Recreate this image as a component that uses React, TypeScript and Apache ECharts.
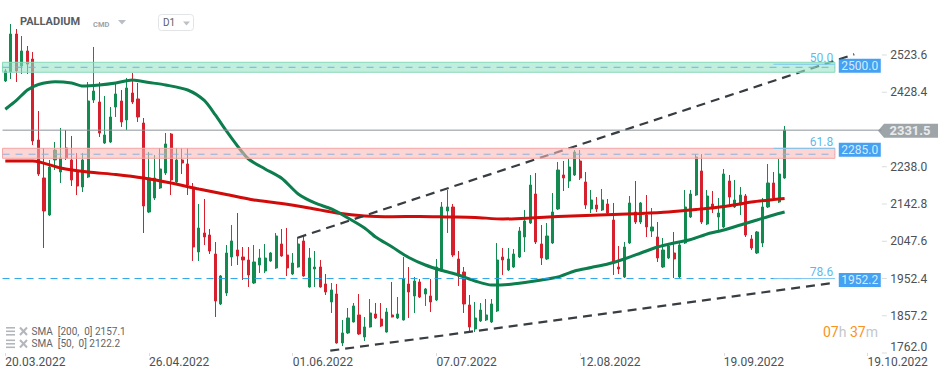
import React, { useEffect, useRef } from "react";
import * as echarts from "echarts";

const FONT = "Roboto, 'Noto Sans', sans-serif";
const GREEN = "#128a50";
const RED = "#d6202e";
const AXIS_TEXT = "#4b5157";

// ---- axes ----
const SLOT_COUNT = 159;
const slots = Array.from({ length: SLOT_COUNT }, (_, i) => String(i));
const LABEL_STEP = 26;
const dateLabels = ["20.03.2022", "26.04.2022", "01.06.2022", "07.07.2022", "12.08.2022", "19.09.2022", "19.10.2022"];
const priceTicks = [1762.0, 1857.2, 1952.4, 2047.6, 2142.8, 2238.0, 2428.4, 2523.6];
const Y_MIN = 1762.0;
const Y_MAX = 2651.4;

// ---- candles: [open, close, low, high] ----
const ohlc = [
  [2457.2, 2482.7, 2454.6, 2487.9], [2480.2, 2577.3, 2462.3, 2602.9], [2577.3, 2482.7, 2454.6, 2590.1],
  [2495.5, 2533.9, 2475.1, 2572.2], [2533.9, 2500.6, 2475.1, 2546.6], [2513.4, 2303.8, 2293.6, 2531.3],
  [2306.4, 2219.5, 2214.4, 2380.5], [2209.3, 2124.9, 2030.4, 2286.0], [2114.7, 2237.4, 2112.2, 2255.3],
  [2255.3, 2280.8, 2229.7, 2301.3], [2224.6, 2260.4, 2196.5, 2337.1], [2286.0, 2260.4, 2255.3, 2332.0],
  [2255.3, 2204.2, 2188.8, 2316.6], [2224.6, 2188.8, 2165.8, 2273.2], [2186.3, 2255.3, 2173.5, 2273.2],
  [2211.8, 2406.1, 2209.3, 2454.6], [2408.6, 2431.6, 2401.0, 2544.1], [2403.5, 2324.3, 2314.1, 2454.6],
  [2298.7, 2319.2, 2296.2, 2418.9], [2301.3, 2365.2, 2298.7, 2390.7], [2390.7, 2424.0, 2365.2, 2452.1],
  [2406.1, 2352.4, 2339.6, 2434.2], [2357.5, 2439.3, 2332.0, 2464.9], [2426.5, 2403.5, 2398.4, 2477.6],
  [2411.2, 2365.2, 2352.4, 2452.1], [2349.8, 2137.7, 2068.7, 2362.6], [2122.4, 2209.3, 2119.8, 2275.7],
  [2158.2, 2209.3, 2153.1, 2268.1], [2183.7, 2232.3, 2181.2, 2286.0], [2222.1, 2296.2, 2217.0, 2324.3],
  [2321.7, 2204.2, 2165.8, 2324.3], [2199.1, 2255.3, 2196.5, 2286.0], [2255.3, 2247.6, 2219.5, 2286.0],
  [2245.1, 2191.4, 2165.8, 2286.0], [2183.7, 2032.9, 1997.2, 2196.5], [2020.2, 2081.5, 1997.2, 2142.8],
  [2068.7, 2058.5, 2038.1, 2155.6], [2063.6, 2022.7, 2015.0, 2078.9], [2015.0, 1894.9, 1854.0, 2045.7],
  [1887.3, 1958.8, 1884.7, 1961.4], [1915.4, 2017.6, 1907.7, 2038.1], [2007.4, 2048.3, 1984.4, 2089.2],
  [2025.3, 2009.9, 1986.9, 2119.8], [2007.4, 1999.7, 1948.6, 2032.9], [1999.7, 1961.4, 1930.7, 2032.9],
  [1940.9, 1994.6, 1938.4, 2038.1], [1986.9, 2004.8, 1966.5, 2027.8], [1971.6, 2004.8, 1966.5, 2040.6],
  [1997.2, 2017.6, 1995.0, 2020.0], [1979.3, 2061.1, 1977.0, 2068.7], [2040.6, 2009.9, 2008.0, 2078.9],
  [2012.5, 1979.3, 1958.8, 2081.5], [1963.9, 1992.0, 1961.4, 2017.6], [1981.8, 2040.6, 1980.0, 2058.5],
  [2048.3, 1958.8, 1957.0, 2061.1], [1930.7, 2004.8, 1929.0, 2030.4], [1976.7, 1981.8, 1930.7, 2022.7],
  [1981.8, 1930.7, 1929.0, 1999.7], [1938.4, 1917.9, 1910.3, 1963.9], [1892.4, 1923.1, 1864.3, 1940.9],
  [1912.8, 1787.6, 1786.0, 1938.4], [1787.6, 1813.2, 1779.9, 1846.4], [1813.2, 1851.5, 1810.6, 1877.0],
  [1841.3, 1882.2, 1840.0, 1889.8], [1859.2, 1810.6, 1808.1, 1912.8], [1802.9, 1828.5, 1792.7, 1854.0],
  [1828.5, 1864.3, 1827.0, 1900.0], [1861.7, 1851.5, 1848.9, 1889.8], [1848.9, 1831.0, 1828.5, 1889.8],
  [1815.7, 1866.8, 1814.0, 1877.0], [1859.2, 1854.0, 1853.0, 1943.5], [1851.5, 1861.7, 1848.9, 1905.2],
  [1846.4, 1951.2, 1845.0, 2007.4], [1938.4, 1917.9, 1851.5, 1981.8], [1907.7, 1946.0, 1864.3, 1956.3],
  [1943.5, 1905.2, 1902.6, 1951.2], [1912.8, 1925.6, 1882.2, 1928.2], [1907.7, 1892.4, 1866.8, 1951.2],
  [1897.5, 1981.8, 1894.9, 2002.3], [1971.6, 2135.2, 1969.1, 2147.9], [2124.9, 2135.2, 2068.7, 2178.6],
  [2135.2, 2012.5, 2007.4, 2142.8], [2002.3, 1958.8, 1933.3, 2022.7], [1969.0, 1887.3, 1864.3, 1981.8],
  [1884.7, 1828.5, 1818.3, 1910.3], [1823.4, 1851.5, 1815.7, 1892.4], [1843.8, 1871.9, 1841.3, 1889.8],
  [1846.4, 1859.2, 1843.8, 1900.0], [1841.3, 1887.3, 1838.7, 1900.0], [1869.4, 1999.7, 1866.8, 2043.2],
  [2007.4, 1999.7, 1961.4, 2030.4], [1974.2, 2002.3, 1971.6, 2030.4], [1981.8, 2015.0, 1979.3, 2027.8],
  [2007.4, 2073.8, 2004.8, 2084.1], [2058.5, 2099.4, 2020.2, 2127.5], [2094.3, 2191.4, 2091.7, 2217.0],
  [2168.4, 2045.7, 2040.6, 2222.1], [2040.6, 2004.8, 1986.9, 2089.2], [2002.3, 2061.1, 1999.7, 2094.3],
  [2043.2, 2122.4, 2040.6, 2170.9], [2130.1, 2229.7, 2127.5, 2250.2], [2217.0, 2209.3, 2176.1, 2252.7],
  [2201.6, 2237.4, 2183.7, 2257.8], [2217.0, 2275.7, 2214.4, 2280.8], [2252.7, 2209.3, 2204.2, 2280.8],
  [2199.1, 2140.3, 2130.1, 2224.6], [2130.1, 2153.1, 2119.8, 2178.6], [2140.3, 2130.1, 2122.4, 2160.7],
  [2127.5, 2153.1, 2124.9, 2181.2], [2142.8, 2119.8, 2114.7, 2155.6], [2101.9, 1992.0, 1961.4, 2145.4],
  [1981.8, 1976.7, 1963.9, 2035.5], [1956.3, 2032.9, 1953.7, 2045.7], [2043.2, 2145.4, 2040.6, 2163.3],
  [2122.4, 2096.8, 2091.7, 2201.6], [2096.8, 2145.4, 2091.7, 2147.9], [2114.7, 2084.1, 2058.5, 2165.8],
  [2073.8, 2084.1, 2058.5, 2132.6], [2058.5, 2004.8, 1994.6, 2096.8], [1981.8, 2025.3, 1979.3, 2055.9],
  [2004.8, 2035.5, 2002.3, 2043.2], [2017.6, 2002.3, 1953.7, 2071.3], [1956.3, 2038.1, 1953.7, 2043.2],
  [2043.2, 2135.2, 2040.6, 2178.6], [2109.6, 2168.4, 2107.1, 2178.6], [2165.8, 2262.9, 2163.3, 2270.6],
  [2227.2, 2096.8, 2091.7, 2270.6], [2091.7, 2163.3, 2089.2, 2178.6], [2142.8, 2130.1, 2119.8, 2176.1],
  [2109.6, 2119.8, 2073.8, 2158.2], [2084.1, 2219.5, 2081.5, 2232.3], [2201.6, 2160.7, 2135.2, 2217.0],
  [2135.2, 2153.1, 2132.6, 2204.2], [2140.3, 2165.8, 2114.7, 2186.3], [2163.3, 2063.6, 2058.5, 2168.4],
  [2053.4, 2030.4, 2025.3, 2063.6], [2017.6, 2071.3, 2015.0, 2073.8], [2043.2, 2135.2, 2032.9, 2158.2],
  [2135.2, 2196.5, 2132.6, 2245.1], [2196.5, 2158.2, 2155.6, 2224.6], [2147.9, 2219.5, 2145.4, 2257.8],
  [2209.3, 2331.5, 2207.0, 2342.2],
];

// ---- moving averages: [slot, value] ----
const sma200 = [
  [0, 2252.7], [5, 2252.7], [10, 2234.8], [15, 2224.6], [20, 2218.2], [25, 2209.3], [30, 2196.5],
  [35, 2181.2], [40, 2167.1], [45, 2153.1], [50, 2144.1], [55, 2132.6], [60, 2119.8], [65, 2112.2],
  [70, 2110.4], [75, 2110.9], [80, 2109.6], [85, 2108.4], [90, 2104.5], [95, 2107.1], [100, 2110.9],
  [105, 2113.5], [110, 2116.0], [115, 2118.6], [120, 2122.4], [125, 2128.8], [130, 2136.4],
  [135, 2147.9], [139, 2154.3], [141, 2157.1],
];
const sma50 = [
  [0, 2384.9], [2, 2407.4], [4, 2434.2], [6, 2448.2], [9, 2455.4], [12, 2452.1], [14, 2444.4],
  [17, 2447.0], [20, 2452.1], [23, 2459.7], [26, 2453.4], [29, 2447.0], [33, 2434.2], [36, 2407.4],
  [38, 2370.3], [40, 2329.4], [42, 2291.1], [44, 2257.8], [47, 2232.3], [50, 2208.5], [53, 2168.4],
  [56, 2145.4], [59, 2130.1], [62, 2107.0], [65, 2081.5], [67, 2058.5], [70, 2032.9], [73, 2006.1],
  [76, 1986.9], [79, 1972.9], [82, 1961.4], [85, 1946.1], [88, 1935.8], [91, 1937.1], [94, 1942.2],
  [97, 1948.6], [100, 1956.3], [103, 1971.6], [106, 1980.5], [109, 1989.5], [112, 2002.3],
  [115, 2017.6], [118, 2032.9], [121, 2043.2], [124, 2052.1], [127, 2066.2], [130, 2076.4],
  [133, 2089.2], [136, 2101.9], [139, 2114.7], [141, 2122.2],
];

// ---- drawings ----
const upperTrend = [[52.9, 2056.7], [153.6, 2525.4]];
const lowerTrend = [[58.8, 1767.9], [150.1, 1941.7]];
const greenZone = [2479.5, 2505.0];
const greenZoneLevel = 2492.2;
const redZone = [2259.6, 2285.2];
const redZoneLevel = 2270.0;
const fibRatios = [50.0, 61.8, 78.6];
const fibPrices = [2500.0, 2285.0, 1952.2];
const lastPrice = 2331.5;
const countdown = ["07", "37"];

const LEFT_EDGE = -0.5;
const RIGHT_EDGE = SLOT_COUNT - 0.5;
const LEVEL_END = 150.1;
const BOX_SLOT = 150.8;
const PRICE_TAG_SLOT = 157.9;
const FIB_SHORT_START = 139;
const FIB_DASH_END = 144;

function hLine(price: number, x0: number, x1: number, color: string, type: any, z: number) {
  return {
    type: "line",
    xAxisIndex: 1,
    yAxisIndex: 0,
    data: [[x0, price], [x1, price]],
    symbol: "none",
    silent: true,
    z,
    lineStyle: { color, width: 1, type },
  };
}

export default function App() {
  const ref = useRef<HTMLDivElement>(null);

  useEffect(() => {
    if (!ref.current) return;
    const chart = echarts.init(ref.current, undefined, { renderer: "svg" });
    const last200 = sma200[sma200.length - 1][1];
    const last50 = sma50[sma50.length - 1][1];

    const legendIcon = (y: number) => [
      { type: "rect", shape: { x: 6, y: y - 4.5, width: 9, height: 1.6 }, style: { fill: "#b3b7bb" } },
      { type: "rect", shape: { x: 6, y: y - 1, width: 9, height: 1.6 }, style: { fill: "#b3b7bb" } },
      { type: "rect", shape: { x: 6, y: y + 2.5, width: 9, height: 1.6 }, style: { fill: "#b3b7bb" } },
      { type: "line", shape: { x1: 20, y1: y - 4, x2: 27, y2: y + 3.5 }, style: { stroke: "#b3b7bb", lineWidth: 2 } },
      { type: "line", shape: { x1: 27, y1: y - 4, x2: 20, y2: y + 3.5 }, style: { stroke: "#b3b7bb", lineWidth: 2 } },
    ];

    const option: any = {
      animation: false,
      backgroundColor: "#ffffff",
      textStyle: { fontFamily: FONT },
      grid: { left: 2.54, right: 67.66, top: 5, bottom: 25, containLabel: false },
      xAxis: [
        {
          type: "category",
          data: slots,
          boundaryGap: true,
          axisLine: { show: false, onZero: false },
          axisTick: { show: true, interval: LABEL_STEP - 1, alignWithLabel: true, length: 3, lineStyle: { color: "#dcdcdc" } },
          axisLabel: {
            interval: LABEL_STEP - 1,
            align: "left",
            margin: 3,
            color: AXIS_TEXT,
            fontSize: 12,
            fontFamily: FONT,
            formatter: (_v: string, i: number) => dateLabels[Math.round(i / LABEL_STEP)] ?? "",
          },
          splitLine: { show: false },
        },
        {
          type: "value",
          min: LEFT_EDGE,
          max: RIGHT_EDGE,
          show: false,
          axisLine: { show: false, onZero: false },
          axisTick: { show: false },
          axisLabel: { show: false },
          splitLine: { show: false },
        },
      ],
      yAxis: {
        type: "value",
        position: "right",
        min: Y_MIN,
        max: Y_MAX,
        axisLine: { show: false, onZero: false },
        splitLine: { show: false },
        axisTick: { show: false },
        axisLabel: {
          customValues: priceTicks,
          margin: 9,
          color: AXIS_TEXT,
          fontSize: 12,
          fontFamily: FONT,
          formatter: (v: number) => (v === priceTicks[0] ? `{low|${v.toFixed(1)}}` : v.toFixed(1)),
          rich: { low: { color: AXIS_TEXT, fontSize: 12, fontFamily: FONT, padding: [0, 0, 12, 0] } },
        },
      },
      series: [
        {
          type: "candlestick",
          xAxisIndex: 0,
          yAxisIndex: 0,
          data: ohlc,
          barWidth: 2.6,
          silent: true,
          z: 2,
          itemStyle: { color: GREEN, color0: RED, borderColor: GREEN, borderColor0: RED, borderWidth: 1 },
        },
        {
          type: "line", xAxisIndex: 1, data: sma200, symbol: "none", smooth: 0.25, silent: true, z: 3,
          lineStyle: { color: "#d10a0a", width: 3 },
        },
        {
          type: "line", xAxisIndex: 1, data: sma50, symbol: "none", smooth: 0.25, silent: true, z: 3,
          lineStyle: { color: "#0c7d4d", width: 3 },
        },
        {
          type: "line", xAxisIndex: 1, data: upperTrend, symbol: "none", silent: true, z: 4,
          lineStyle: { color: "#383d42", width: 2.2, type: [9, 6] },
        },
        {
          type: "line", xAxisIndex: 1, data: lowerTrend, symbol: "none", silent: true, z: 4,
          lineStyle: { color: "#383d42", width: 2.2, type: [9, 6] },
        },
        hLine(lastPrice, LEFT_EDGE, RIGHT_EDGE, "#8a9399", "solid", 4),
        {
          type: "line",
          xAxisIndex: 1,
          data: [],
          symbol: "none",
          silent: true,
          markArea: {
            silent: true,
            z: 10,
            data: [
              [
                { coord: [LEFT_EDGE, greenZone[1]], itemStyle: { color: "rgba(150,226,196,0.58)", borderColor: "#88d9b9", borderWidth: 1 } },
                { coord: [LEVEL_END, greenZone[0]] },
              ],
              [
                { coord: [LEFT_EDGE, redZone[1]], itemStyle: { color: "rgba(250,182,182,0.58)", borderColor: "#f4a6a6", borderWidth: 1 } },
                { coord: [LEVEL_END, redZone[0]] },
              ],
            ],
          },
        },
        hLine(greenZoneLevel, LEFT_EDGE, LEVEL_END, "#55bfe6", [7, 6], 11),
        hLine(redZoneLevel, LEFT_EDGE, LEVEL_END, "#8fb2dc", [7, 6], 11),
        hLine(fibPrices[2], LEFT_EDGE, FIB_DASH_END, "#27a2e8", [7, 5], 11),
        ...fibPrices.map((p) => hLine(p, FIB_SHORT_START, LEVEL_END, "#7cc4ef", "solid", 11)),
        {
          // price-axis tick marks, drawn just outside the plot's right edge
          type: "scatter",
          xAxisIndex: 1,
          data: priceTicks.map((p) => [RIGHT_EDGE, p]),
          symbol: "rect",
          symbolSize: [5, 1],
          symbolOffset: [3, 0],
          clip: false,
          silent: true,
          z: 5,
          itemStyle: { color: "#cfd3d6" },
        },
        {
          type: "scatter",
          xAxisIndex: 1,
          data: fibPrices.map((p, i) => [LEVEL_END - 0.3, p, fibRatios[i]]),
          symbolSize: 1,
          itemStyle: { color: "rgba(0,0,0,0)" },
          silent: true,
          z: 20,
          label: {
            show: true,
            position: "top",
            distance: 0,
            align: "right",
            color: "#35a6e6",
            fontSize: 12,
            fontFamily: FONT,
            formatter: (p: any) => p.value[2].toFixed(1),
          },
        },
        {
          type: "scatter",
          xAxisIndex: 1,
          data: fibPrices.map((p) => [BOX_SLOT, p]),
          symbol: "rect",
          symbolSize: [42, 14],
          symbolOffset: [21, 1.5],
          clip: false,
          silent: true,
          z: 20,
          itemStyle: { color: "#1689ee" },
          label: {
            show: true,
            position: "inside",
            color: "#ffffff",
            fontSize: 12,
            fontFamily: FONT,
            formatter: (p: any) => p.value[1].toFixed(1),
          },
        },
        {
          type: "scatter",
          xAxisIndex: 1,
          data: [[PRICE_TAG_SLOT, lastPrice]],
          symbol: "path://M0,7L6,0L60,0L60,14L6,14Z",
          symbolSize: [60, 14],
          symbolKeepAspect: false,
          symbolOffset: [30, 0.5],
          clip: false,
          silent: true,
          z: 20,
          itemStyle: { color: "#868e93" },
          label: {
            show: true,
            position: "inside",
            color: "#ffffff",
            fontSize: 13,
            fontWeight: "bold",
            fontFamily: FONT,
            offset: [2, 0],
            formatter: lastPrice.toFixed(1),
          },
        },
      ],
      graphic: [
        { type: "text", left: 20, top: 16, style: { text: "PALLADIUM", fill: "#575d63", font: `bold 11px ${FONT}` }, z: 30 },
        { type: "text", left: 93, top: 20, style: { text: "CMD", fill: "#9ca3a9", font: `bold 7.5px ${FONT}` }, z: 30 },
        { type: "polygon", shape: { points: [[118, 20], [126, 20], [122, 24.5]] }, style: { fill: "#b8bec3" }, z: 30 },
        { type: "rect", shape: { x: 158.5, y: 14.5, width: 35, height: 16, r: 3 }, style: { fill: "#fff", stroke: "#e2e4e6", lineWidth: 1 }, z: 30 },
        { type: "text", left: 163, top: 17, style: { text: "D1", fill: "#5a6066", font: `10px ${FONT}` }, z: 31 },
        { type: "polygon", shape: { points: [[183, 21.5], [190, 21.5], [186.5, 25.5]] }, style: { fill: "#bcc1c5" }, z: 31 },
        ...legendIcon(331.5),
        ...legendIcon(344),
        { type: "text", left: 31.5, top: 326, style: { text: `SMA  [200,  0] ${last200.toFixed(1)}`, fill: "#5f6468", font: `10px ${FONT}` }, z: 30 },
        { type: "text", left: 31.5, top: 338.5, style: { text: `SMA  [50,  0] ${last50.toFixed(1)}`, fill: "#5f6468", font: `10px ${FONT}` }, z: 30 },
        {
          type: "text",
          left: 823,
          top: 325,
          z: 30,
          style: {
            text: `{o|${countdown[0]}}{g|h} {o|${countdown[1]}}{g|m}`,
            font: `14px ${FONT}`,
            rich: {
              o: { fill: "#f7941d", font: `14px ${FONT}` },
              g: { fill: "#c3c7cb", font: `14px ${FONT}` },
            },
          },
        },
      ],
    };

    chart.setOption(option);
    return () => chart.dispose();
  }, []);

  return (
    <div
      ref={ref}
      style={{ position: "fixed", left: 0, top: 0, width: 949, height: 378, background: "#fff" }}
    />
  );
}
